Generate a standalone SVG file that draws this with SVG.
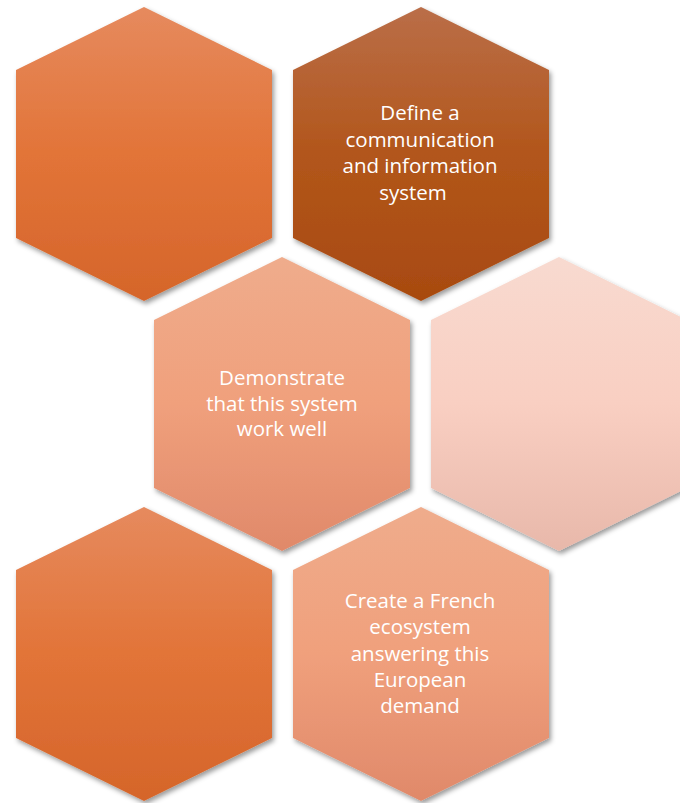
<svg xmlns="http://www.w3.org/2000/svg" width="680" height="803" viewBox="0 0 680 803">
<defs>
<linearGradient id="gDark" x1="0" y1="0" x2="0" y2="1">
<stop offset="0" stop-color="#E68A5E"/><stop offset="0.5" stop-color="#E27438"/><stop offset="1" stop-color="#D5652A"/>
</linearGradient>
<linearGradient id="gBrown" x1="0" y1="0" x2="0" y2="1">
<stop offset="0" stop-color="#BA6E48"/><stop offset="0.5" stop-color="#B2561B"/><stop offset="1" stop-color="#A84A10"/>
</linearGradient>
<linearGradient id="gMid" x1="0" y1="0" x2="0" y2="1">
<stop offset="0" stop-color="#EFAC8C"/><stop offset="0.5" stop-color="#F0A07C"/><stop offset="1" stop-color="#E0896A"/>
</linearGradient>
<linearGradient id="gLight" x1="0" y1="0" x2="0" y2="1">
<stop offset="0" stop-color="#F8DAD0"/><stop offset="0.5" stop-color="#F9CFC2"/><stop offset="1" stop-color="#E8B8AA"/>
</linearGradient>
<filter id="sh" x="-10%" y="-10%" width="125%" height="125%">
<feDropShadow dx="2" dy="3" stdDeviation="2.5" flood-color="#000" flood-opacity="0.4"/>
</filter>
<polygon id="hex" points="0,-147 128,-84 128,84 0,147 -128,84 -128,-84"/>
</defs>
<style>
.lbl{font-family:"Open Sans","Liberation Sans",sans-serif;font-size:20.5px;fill:#FFFFFF;text-anchor:middle}
</style>
<rect width="680" height="803" fill="#FFFFFF"/>
<g id="connectors"/>
<g id="hex1"><use href="#hex" x="144" y="154" fill="url(#gDark)" filter="url(#sh)"/></g>
<g id="hex2"><use href="#hex" x="421" y="154" fill="url(#gBrown)" filter="url(#sh)"/>
<text class="lbl" x="420" y="120">Define a</text>
<text class="lbl" x="420" y="147">communication</text>
<text class="lbl" x="420" y="173">and information</text>
<text class="lbl" x="413" y="200">system</text>
</g>
<g id="hex3"><use href="#hex" x="282" y="404" fill="url(#gMid)" filter="url(#sh)"/>
<text class="lbl" x="282" y="385">Demonstrate</text>
<text class="lbl" x="282" y="411">that this system</text>
<text class="lbl" x="282" y="436">work well</text>
</g>
<g id="hex4"><use href="#hex" x="559" y="404" fill="url(#gLight)" filter="url(#sh)"/></g>
<g id="hex5"><use href="#hex" x="144" y="654" fill="url(#gDark)" filter="url(#sh)"/></g>
<g id="hex6"><use href="#hex" x="421" y="654" fill="url(#gMid)" filter="url(#sh)"/>
<text class="lbl" x="420" y="608">Create a French</text>
<text class="lbl" x="420" y="634">ecosystem</text>
<text class="lbl" x="420" y="661">answering this</text>
<text class="lbl" x="420" y="687">European</text>
<text class="lbl" x="420" y="713">demand</text>
</g>
</svg>
